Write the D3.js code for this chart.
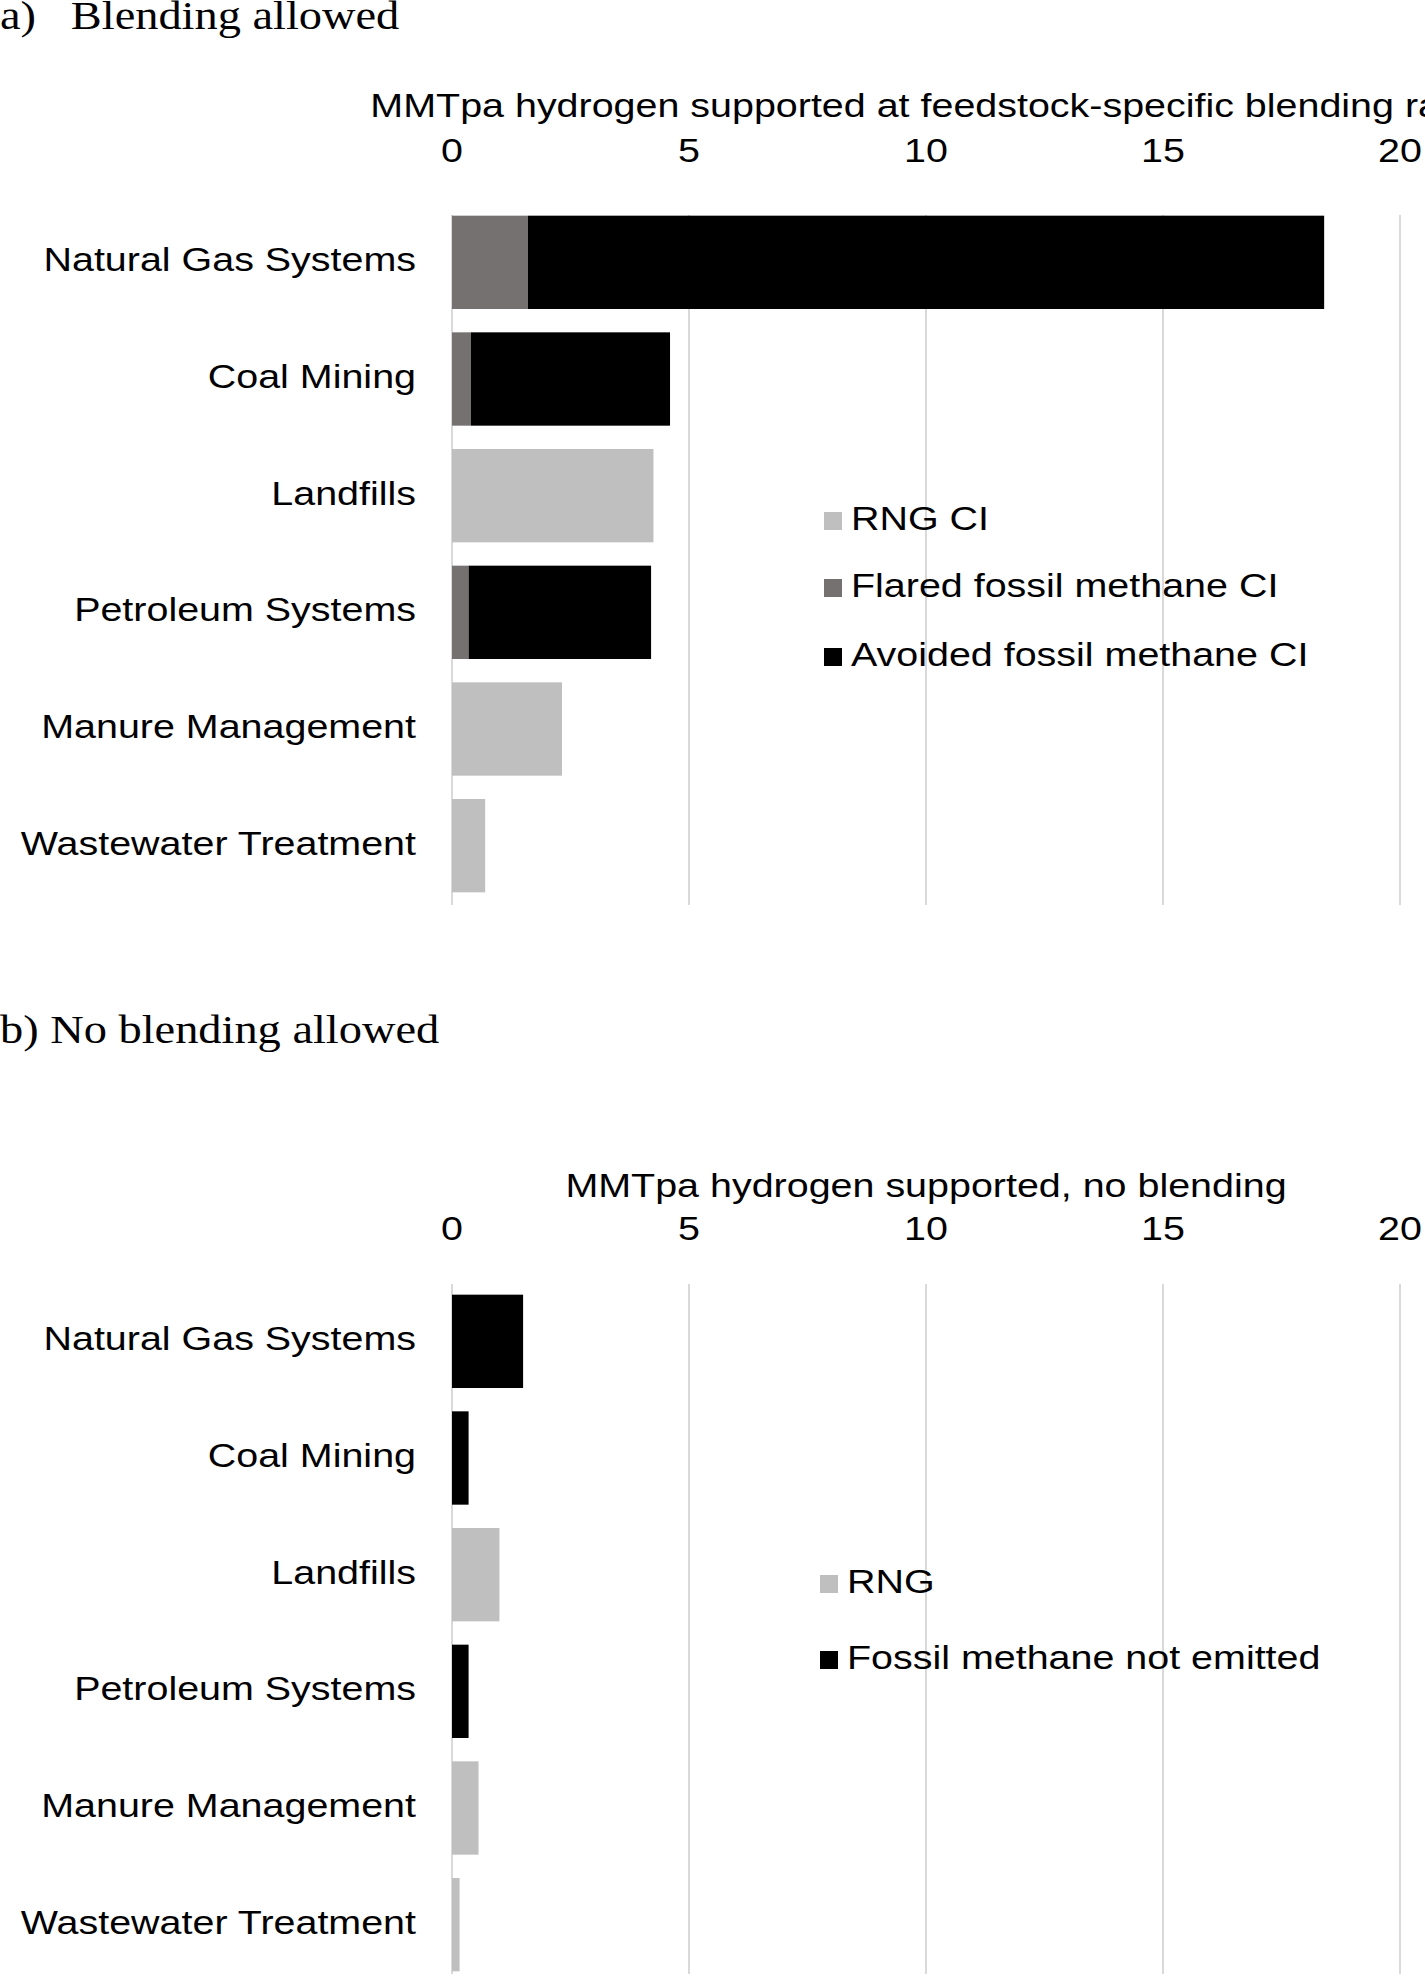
<!DOCTYPE html>
<html><head><meta charset="utf-8">
<script src="https://cdn.jsdelivr.net/npm/d3@7"></script>
<style>body{margin:0;background:#fff}text{font-family:"Liberation Sans",Arial,sans-serif}</style>
</head><body>
<script>
var categories = ['Natural Gas Systems', 'Coal Mining', 'Landfills', 'Petroleum Systems', 'Manure Management', 'Wastewater Treatment'];
var ticks = [0, 5, 10, 15, 20];
// panel a
var rngA = [0, 0, 4.25, 0, 2.32, 0.7];
var flaredA = [1.6, 0.4, 0, 0.35, 0, 0];
var avoidedA = [16.8, 4.2, 0, 3.85, 0, 0];
// panel b
var rngB = [0, 0, 1.0, 0, 0.56, 0.16];
var fossilB = [1.5, 0.35, 0, 0.35, 0, 0];

var colors = {rng: '#bfbfbf', flared: '#767171', avoided: '#000000'};
var stretch = 1.16;

var svg = d3.select('body').append('svg').attr('width', 1425).attr('height', 1985);
var x = d3.scaleLinear().domain([0, 20]).range([452, 1400]);

// text stretched horizontally to match the wider reference lettering
var label = function(g, tx, ty, str, anchor, size) {
  return g.append('text').attr('transform', 'translate(' + tx + ',' + ty + ') scale(' + stretch + ',1)')
    .attr('text-anchor', anchor || 'start').attr('dominant-baseline', 'middle')
    .style('font-size', (size || 34) + 'px').text(str);
};

var drawPanel = function(opt) {
  var g = svg.append('g');
  label(g, 0, opt.titleY, opt.title, 'start', 40).style('font-family', '"Liberation Serif",serif')
    .attr('xml:space', 'preserve');
  label(g, x(10), opt.axisTitleY, opt.axisTitle, 'middle');
  var y = d3.scaleBand().domain(categories).range([opt.top, opt.top + 700]).paddingInner(0.2).paddingOuter(0.1);
  ticks.forEach(function(t) {
    g.append('line').attr('x1', x(t)).attr('x2', x(t)).attr('y1', opt.gridTop).attr('y2', opt.gridBottom)
      .attr('stroke', '#d9d9d9').attr('stroke-width', 2);
    label(g, x(t), opt.tickY, t, 'middle');
  });
  categories.forEach(function(c, i) {
    label(g, 416, y(c) + y.bandwidth() / 2, c, 'end');
    var x0 = 0;
    opt.series.forEach(function(s) {
      var v = s.values[i];
      if(v > 0) {
        g.append('rect').attr('x', x(x0)).attr('y', y(c)).attr('width', x(x0 + v) - x(x0))
          .attr('height', y.bandwidth()).attr('fill', s.color);
      }
      x0 += v;
    });
  });
  opt.series.forEach(function(s, i) {
    var ly = opt.legendY[i];
    g.append('rect').attr('x', opt.legendX).attr('y', ly - 9).attr('width', 18).attr('height', 18).attr('fill', s.color);
    label(g, opt.legendX + 27, ly, s.name, 'start');
  });
};

drawPanel({
  title: 'a)   Blending allowed', titleY: 20,
  axisTitle: 'MMTpa hydrogen supported at feedstock-specific blending ratio', axisTitleY: 108,
  tickY: 153, gridTop: 215, gridBottom: 905, top: 204,
  series: [
    {name: 'RNG CI', values: rngA, color: colors.rng},
    {name: 'Flared fossil methane CI', values: flaredA, color: colors.flared},
    {name: 'Avoided fossil methane CI', values: avoidedA, color: colors.avoided}
  ],
  legendX: 824, legendY: [521, 588, 657]
});

drawPanel({
  title: 'b) No blending allowed', titleY: 1034,
  axisTitle: 'MMTpa hydrogen supported, no blending', axisTitleY: 1188,
  tickY: 1231, gridTop: 1284, gridBottom: 1974, top: 1283,
  series: [
    {name: 'RNG', values: rngB, color: colors.rng},
    {name: 'Fossil methane not emitted', values: fossilB, color: colors.avoided}
  ],
  legendX: 820, legendY: [1584, 1660]
});
</script>
</body></html>
